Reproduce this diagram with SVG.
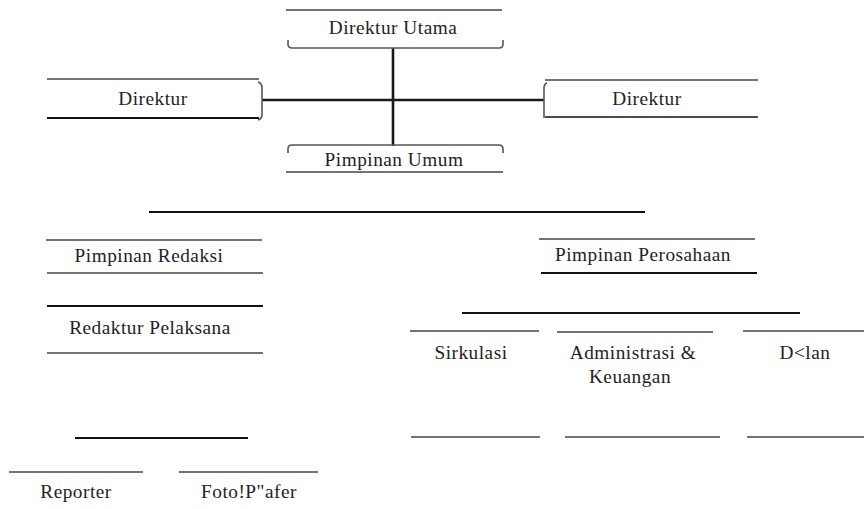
<svg xmlns="http://www.w3.org/2000/svg" width="864" height="509" viewBox="0 0 864 509">
<style>
text{font-family:'Liberation Serif','Times New Roman',serif;font-size:19.3px;fill:#222;text-anchor:middle;letter-spacing:0.5px}
.thin{stroke:#444;stroke-width:1.3;fill:none}
.thick{stroke:#111;stroke-width:2.2;fill:none}
.br{stroke:#555;stroke-width:1.6;fill:none}
.conn{stroke:#1a1a1a;stroke-width:2.6;fill:none}
</style>
<rect width="864" height="509" fill="#fff"/>
<g id="connectors">
<line class="conn" x1="393" y1="48" x2="393" y2="146"/>
<line class="conn" x1="262" y1="100" x2="544" y2="100"/>
<line class="thick" x1="149" y1="212" x2="645" y2="212"/>
<line class="thick" x1="462" y1="313" x2="800" y2="313"/>
<line class="thick" x1="75" y1="438" x2="248" y2="438"/>
</g>
<g id="direktur-utama">
<line class="thin" x1="286" y1="10" x2="502" y2="10"/>
<text x="393" y="34">Direktur Utama</text>
<path class="br" d="M288,40 V44 Q288,48 292,48 H499 Q503,48 503,44 V40"/>
</g>
<g id="pimpinan-umum">
<path class="br" d="M288,153 V149 Q288,145 292,145 H499 Q503,145 503,149 V153"/>
<text x="394" y="166">Pimpinan Umum</text>
<line class="thin" x1="286" y1="172" x2="503" y2="172"/>
</g>
<g id="direktur-kiri">
<line class="thin" x1="47" y1="79" x2="259" y2="79"/>
<text x="153" y="105">Direktur</text>
<line class="thick" x1="47" y1="118" x2="259" y2="118"/>
<path class="br" d="M258,82 Q262,83 262,88 V114 Q262,119 258,120"/>
</g>
<g id="direktur-kanan">
<line class="thin" x1="545" y1="80" x2="758" y2="80"/>
<text x="647" y="105">Direktur</text>
<line class="thin" x1="545" y1="117" x2="758" y2="117" style="stroke:#111;stroke-width:1.6"/>
<path class="br" d="M547,83 Q544,84 544,88 V118"/>
</g>
<g id="pimpinan-redaksi">
<line class="thin" x1="46" y1="240" x2="262" y2="240"/>
<text x="149" y="262">Pimpinan  Redaksi</text>
<line class="thin" x1="47" y1="273" x2="263" y2="273"/>
</g>
<g id="redaktur-pelaksana">
<line class="thick" x1="47" y1="306" x2="263" y2="306"/>
<text x="150" y="334">Redaktur Pelaksana</text>
<line class="thin" x1="47" y1="353" x2="263" y2="353"/>
</g>
<g id="pimpinan-perusahaan">
<line class="thin" x1="539" y1="239" x2="755" y2="239"/>
<text x="643" y="261">Pimpinan  Perosahaan</text>
<line class="thick" x1="541" y1="273" x2="757" y2="273"/>
</g>
<g id="sirkulasi">
<line class="thin" x1="410" y1="331" x2="539" y2="331"/>
<text x="471" y="359">Sirkulasi</text>
<line class="thin" x1="411" y1="437" x2="540" y2="437"/>
</g>
<g id="administrasi">
<line class="thin" x1="557" y1="332" x2="713" y2="332"/>
<text x="633" y="359">Administrasi &amp;</text>
<text x="630" y="383">Keuangan</text>
<line class="thin" x1="565" y1="437" x2="720" y2="437"/>
</g>
<g id="iklan">
<line class="thin" x1="743" y1="331" x2="864" y2="331"/>
<text x="805" y="359">D&lt;lan</text>
<line class="thin" x1="747" y1="437" x2="864" y2="437"/>
</g>
<g id="reporter">
<line class="thin" x1="9" y1="472" x2="143" y2="472"/>
<text x="76" y="498">Reporter</text>
</g>
<g id="fotografer">
<line class="thin" x1="179" y1="472" x2="318" y2="472"/>
<text x="249" y="498">Foto!P"afer</text>
</g>
</svg>
